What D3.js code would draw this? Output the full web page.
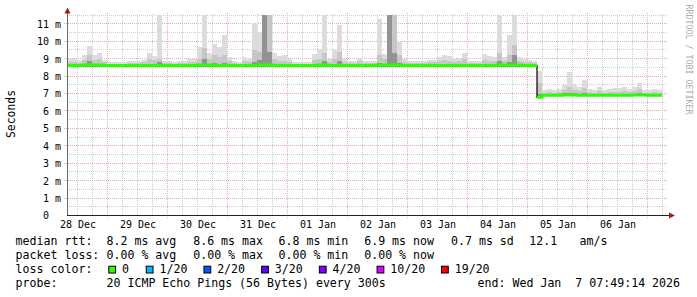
<!DOCTYPE html>
<html><head><meta charset="utf-8">
<script src="https://cdn.jsdelivr.net/npm/d3@7"></script>
<style>html,body{margin:0;padding:0;background:#fff;} svg{display:block;} text{white-space:pre;}</style>
</head><body><svg id="c" width="697" height="297"></svg>
<script>
// ---------- data ----------
const startTime = Date.UTC(2025, 11, 28, 7, 49, 14);
const endTime = Date.UTC(2026, 0, 7, 7, 49, 14);
const stepHours = 2;

const median = [
8.6,8.6,8.6,8.63,8.63,8.63,8.63,8.6,8.6,8.6,
8.6,8.6,8.6,8.6,8.6,8.6,8.6,8.6,8.6,8.6,
8.6,8.6,8.6,8.6,8.6,8.6,8.63,8.63,8.63,8.6,
8.6,8.6,8.6,8.6,8.6,8.6,8.6,8.6,8.63,8.63,
8.63,8.6,8.6,8.6,8.6,8.6,8.6,8.6,8.6,8.6,
8.63,8.63,8.6,8.6,8.6,8.6,8.6,8.6,8.6,8.6,
8.6,8.6,8.63,8.63,8.63,8.63,8.6,8.6,8.6,8.6,
8.6,8.6,8.6,8.6,8.6,8.6,8.6,8.6,8.6,8.6,
8.6,8.6,8.6,8.6,8.6,8.6,8.63,8.63,8.63,8.63,
8.63,8.6,8.6,8.6,6.78,6.9,6.9,6.9,6.9,6.92,
6.92,6.92,6.9,6.9,6.9,6.9,6.9,6.9,6.9,6.9,
6.9,6.9,6.9,6.92,6.92,6.92,6.9,6.9,6.9];

const smokeMin = [
8.52,8.52,8.52,8.52,8.52,8.52,8.52,8.52,8.52,8.52,
8.52,8.52,8.52,8.52,8.52,8.52,8.52,8.52,8.52,8.52,
8.52,8.52,8.52,8.52,8.52,8.52,8.52,8.52,8.52,8.52,
8.52,8.52,8.52,8.52,8.52,8.52,8.52,8.52,8.52,8.52,
8.52,8.52,8.52,8.52,8.52,8.52,8.52,8.52,8.52,8.52,
8.52,8.52,8.52,8.52,8.52,8.52,8.52,8.52,8.52,8.52,
8.52,8.52,8.52,8.52,8.52,8.52,8.52,8.52,8.52,8.52,
8.52,8.52,8.52,8.52,8.52,8.52,8.52,8.52,8.52,8.52,
8.52,8.52,8.52,8.52,8.52,8.52,8.52,8.52,8.52,8.52,
8.52,8.52,8.52,8.52,6.74,6.85,6.85,6.85,6.85,6.85,
6.85,6.85,6.85,6.85,6.85,6.85,6.85,6.85,6.85,6.85,
6.85,6.85,6.85,6.85,6.85,6.85,6.85,6.85,6.85];

const smokeMax = [
8.95,8.95,8.9,9.2,9.7,9.2,9.33,8.9,8.82,8.8,
8.82,8.8,8.87,8.85,8.87,8.9,9.33,9.15,11.5,8.85,
8.85,8.82,8.85,8.85,8.95,8.95,9.66,11.5,9.33,9.85,
9.66,10.34,9.1,8.85,8.82,9.1,8.95,11.05,10.5,11.5,
11.5,9.3,9.15,9.2,8.95,8.8,8.8,8.8,8.8,9.26,
9.55,11.5,8.95,9.47,10.95,8.95,8.85,8.85,9.0,8.85,
8.85,8.85,11.3,9.26,11.5,11.5,9.94,8.95,8.85,8.85,
8.85,8.85,8.9,8.9,9.1,9.2,9.15,9.0,9.05,9.33,
8.85,8.85,8.85,9.26,9.15,9.1,11.5,9.1,10.38,11.5,
9.1,8.95,8.9,8.85,8.3,7.2,7.26,7.2,7.26,7.47,
8.23,7.5,7.4,7.77,7.26,7.2,7.35,7.2,7.26,7.3,
7.3,7.4,7.26,7.35,7.62,7.22,7.22,7.26,7.2];

const smokeMid = [
8.78,8.78,8.75,8.9,9.2,8.9,9.0,8.78,8.72,8.72,
8.72,8.72,8.75,8.75,8.75,8.78,9.0,8.9,9.0,8.75,
8.75,8.72,8.75,8.75,8.8,8.8,9.0,9.6,9.0,9.2,
9.1,9.2,8.85,8.75,8.72,8.85,8.8,9.5,9.4,11.5,
11.5,9.0,8.85,8.85,8.8,8.72,8.72,8.72,8.72,8.9,
9.0,9.3,8.8,9.0,9.4,8.8,8.75,8.75,8.85,8.75,
8.75,8.75,9.2,9.0,11.5,11.5,9.2,8.8,8.75,8.75,
8.75,8.75,8.78,8.78,8.85,8.9,8.88,8.82,8.85,9.0,
8.75,8.75,8.75,8.9,8.85,8.85,9.3,8.85,9.2,9.8,
8.85,8.8,8.78,8.75,7.6,7.05,7.08,7.05,7.08,7.2,
7.4,7.2,7.15,7.3,7.08,7.05,7.12,7.05,7.08,7.1,
7.1,7.15,7.08,7.12,7.25,7.05,7.05,7.08,7.05];

const smokeDark = [
8.66,8.66,8.66,8.7,8.85,8.7,8.7,8.66,8.66,8.66,
8.66,8.66,8.66,8.66,8.66,8.66,8.66,8.66,8.8,8.66,
8.66,8.66,8.66,8.66,8.66,8.66,8.7,9.0,8.7,8.75,
8.7,8.75,8.66,8.66,8.66,8.66,8.66,8.8,8.9,11.5,
9.4,8.7,8.66,8.66,8.66,8.66,8.66,8.66,8.66,8.7,
8.7,8.85,8.66,8.7,8.85,8.66,8.66,8.66,8.66,8.66,
8.66,8.66,8.75,8.7,11.5,9.3,8.75,8.66,8.66,8.66,
8.66,8.66,8.66,8.66,8.7,8.7,8.7,8.66,8.66,8.7,
8.66,8.66,8.66,8.7,8.66,8.66,8.85,8.7,8.8,9.2,
8.7,8.66,8.66,8.66,6.95,6.96,6.96,6.96,6.96,7.0,
7.05,7.0,6.96,7.0,6.96,6.96,6.96,6.96,6.96,6.96,
6.96,6.96,6.96,6.96,7.0,6.96,6.96,6.96,6.96];

const yTicks = [0,1,2,3,4,5,6,7,8,9,10,11];
const yUnit = "m";
const dayLabels = ["28 Dec","29 Dec","30 Dec","31 Dec","01 Jan","02 Jan","03 Jan","04 Jan","05 Jan","06 Jan"];
const yTitle = "Seconds";
const watermark = "RRDTOOL / TOBI OETIKER";

const rttTitle = "median rtt:";
const rttStats = ["8.2 ms avg","8.6 ms max","6.8 ms min","6.9 ms now","0.7 ms sd","12.1","am/s"];
const lossTitle = "packet loss:";
const lossStats = ["0.00 % avg","0.00 % max","0.00 % min","0.00 % now"];
const colorTitle = "loss color:";
const lossLabels = ["0","1/20","2/20","3/20","4/20","10/20","19/20"];
const lossColors = ["#26ff00","#00b8ff","#0059ff","#5e00ff","#7e00ff","#dd00ff","#ff0000"];
const probeTitle = "probe:";
const probeText = "20 ICMP Echo Pings (56 Bytes) every 300s";
const endText = "end: Wed Jan  7 07:49:14 2026";

// ---------- drawing ----------
const svg = d3.select("#c");
svg.append("rect").attr("width", 697).attr("height", 297).attr("fill", "#fff");

const x = d3.scaleUtc().domain([new Date(startTime), new Date(endTime)]).range([67, 667]);
const y = d3.scaleLinear().domain([0, 11.6]).range([215.5, 13.3]);

const MONO = "'DejaVu Sans Mono', monospace";
const crisp = v => Math.floor(v) + 0.5;

// grid
const gGrid = svg.append("g");
const hours = d3.utcHour.every(6).range(new Date(startTime), new Date(endTime));
hours.forEach(t => {
  const major = t.getUTCHours() === 0;
  const xp = crisp(x(t));
  gGrid.append("line").attr("x1", xp).attr("x2", xp)
    .attr("y1", major ? 218 : 215).attr("y2", 13)
    .attr("stroke", major ? "#eba9a9" : "#cdcdcd")
    .attr("stroke-dasharray", "1,1");
});
for (let v = 0.5; v <= 11.5; v += 0.5) {
  const major = Math.abs(v - Math.round(v)) < 1e-9;
  const yp = crisp(y(v));
  gGrid.append("line").attr("x1", major ? 64 : 67).attr("x2", 667)
    .attr("y1", yp).attr("y2", yp)
    .attr("stroke", major ? "#eba9a9" : "#cdcdcd")
    .attr("stroke-dasharray", "1,1");
}

// bucket points
const stepMs = stepHours * 3600e3;
const tOf = i => new Date(startTime + i * stepMs);
function bandPoints(loArr, hiArr) {
  const pts = loArr.map((v, i) => ({ t: tOf(i), lo: v, hi: hiArr[i] }));
  const n = loArr.length;
  pts.push({ t: tOf(n), lo: loArr[n - 1], hi: hiArr[n - 1] });
  return pts;
}
const area = d3.area().curve(d3.curveStepAfter)
  .x(d => x(d.t)).y0(d => y(d.lo)).y1(d => y(d.hi));

const gSmoke = svg.append("g").attr("shape-rendering", "crispEdges");
gSmoke.append("path").datum(bandPoints(smokeMin, smokeMax)).attr("d", area).attr("fill", "#dcdcdc");
gSmoke.append("path").datum(bandPoints(smokeMin, smokeMid)).attr("fill", "#c6c6c6").attr("d", area);
gSmoke.append("path").datum(bandPoints(smokeMin, smokeDark)).attr("fill", "#939393").attr("d", area);

// median line (black underlay)
const medPts = median.map((v, i) => ({ t: tOf(i), v }));
medPts.push({ t: tOf(median.length), v: median[median.length - 1] });
const line = d3.line().curve(d3.curveStepAfter).x(d => x(d.t)).y(d => y(d.v));
svg.append("path").datum(medPts).attr("d", line).attr("fill", "none")
  .attr("stroke", "#000").attr("stroke-width", 1.2);

// green (loss 0) median segments, split at big jumps
const segs = [];
let cur = [];
median.forEach((v, i) => {
  if (i > 0 && Math.abs(v - median[i - 1]) > 0.5) { cur.push({ t: tOf(i), v: median[i - 1] }); segs.push(cur); cur = []; }
  cur.push({ t: tOf(i), v });
});
cur.push({ t: tOf(median.length), v: median[median.length - 1] });
segs.push(cur);
segs.forEach(s => {
  svg.append("path").datum(s).attr("d", line).attr("fill", "none")
    .attr("stroke", lossColors[0]).attr("stroke-width", 3);
});

// axes lines + arrows
svg.append("line").attr("x1", 67.5).attr("x2", 67.5).attr("y1", 215.5).attr("y2", 13)
  .attr("stroke", "#6a6a6a").attr("stroke-width", 1);
svg.append("line").attr("x1", 67).attr("x2", 669).attr("y1", 215.5).attr("y2", 215.5)
  .attr("stroke", "#222").attr("stroke-width", 1);
svg.append("path").attr("d", "M64.5,13.5 L70.5,13.5 L67.5,7.5 Z").attr("fill", "#9b1c1c");
svg.append("path").attr("d", "M669,212.5 L669,218.5 L675,215.5 Z").attr("fill", "#9b1c1c");

// y axis labels
const yAxis = d3.axisLeft(y).tickValues(yTicks).tickSize(0).tickPadding(0)
  .tickFormat(v => v === 0 ? "0  " : v + " " + yUnit);
const gy = svg.append("g").attr("transform", "translate(61,0)").call(yAxis);
gy.select(".domain").remove();
gy.selectAll("text").attr("font-family", MONO).attr("font-size", 10).attr("fill", "#000")
  .attr("dy", "0.34em").attr("x", 0);

// x axis labels (centred at noon of each day)
const noonTimes = d3.utcDay.range(new Date(startTime), new Date(endTime)).map(d => d3.utcHour.offset(d, -12));
const labelTimes = noonTimes.slice(0, dayLabels.length);
const xAxis = d3.axisBottom(x).tickValues(labelTimes).tickSize(0).tickPadding(0)
  .tickFormat((d, i) => dayLabels[i]);
const gx = svg.append("g").attr("transform", "translate(0,219)").call(xAxis);
gx.select(".domain").remove();
gx.selectAll("text").attr("font-family", MONO).attr("font-size", 10).attr("fill", "#000").attr("dy", "0.85em");

// titles
svg.append("text").attr("transform", "translate(15.2,114) rotate(-90)")
  .attr("text-anchor", "middle").attr("font-family", MONO)
  .attr("font-size", 11.4).attr("fill", "#000").text(yTitle);
svg.append("text").attr("transform", "translate(685.5,4.5) rotate(90)")
  .attr("font-family", MONO).attr("font-size", 8.3).attr("fill", "#ababab").text(watermark);

// legend
const LF = 11.6;
const legend = svg.append("g").attr("font-family", MONO).attr("font-size", LF).attr("fill", "#000");
const statX = [106.5, 193.2, 278.5, 364.2, 451, 529.2, 579.5];
legend.append("text").attr("x", 15.6).attr("y", 244.5).text(rttTitle);
rttStats.forEach((s, i) => legend.append("text").attr("x", statX[i]).attr("y", 244.5).text(s));
legend.append("text").attr("x", 15.6).attr("y", 258.5).text(lossTitle);
lossStats.forEach((s, i) => legend.append("text").attr("x", statX[i]).attr("y", 258.5).text(s));
legend.append("text").attr("x", 15.6).attr("y", 272.5).text(colorTitle);
let bx = 108.3;
lossLabels.forEach((lab, i) => {
  legend.append("rect").attr("x", bx + 0.5).attr("y", 266.2).attr("width", 6.8).attr("height", 6.8)
    .attr("fill", lossColors[i]).attr("stroke", "#000").attr("stroke-width", 1);
  legend.append("text").attr("x", bx + 13.7).attr("y", 272.5).text(lab);
  bx += 30.7 + 6.75 * lab.length;
});
legend.append("text").attr("x", 15.6).attr("y", 286.5).text(probeTitle);
legend.append("text").attr("x", 106.5).attr("y", 286.5).text(probeText);
legend.append("text").attr("x", 477.6).attr("y", 286.5).text(endText);
</script>
</body></html>
